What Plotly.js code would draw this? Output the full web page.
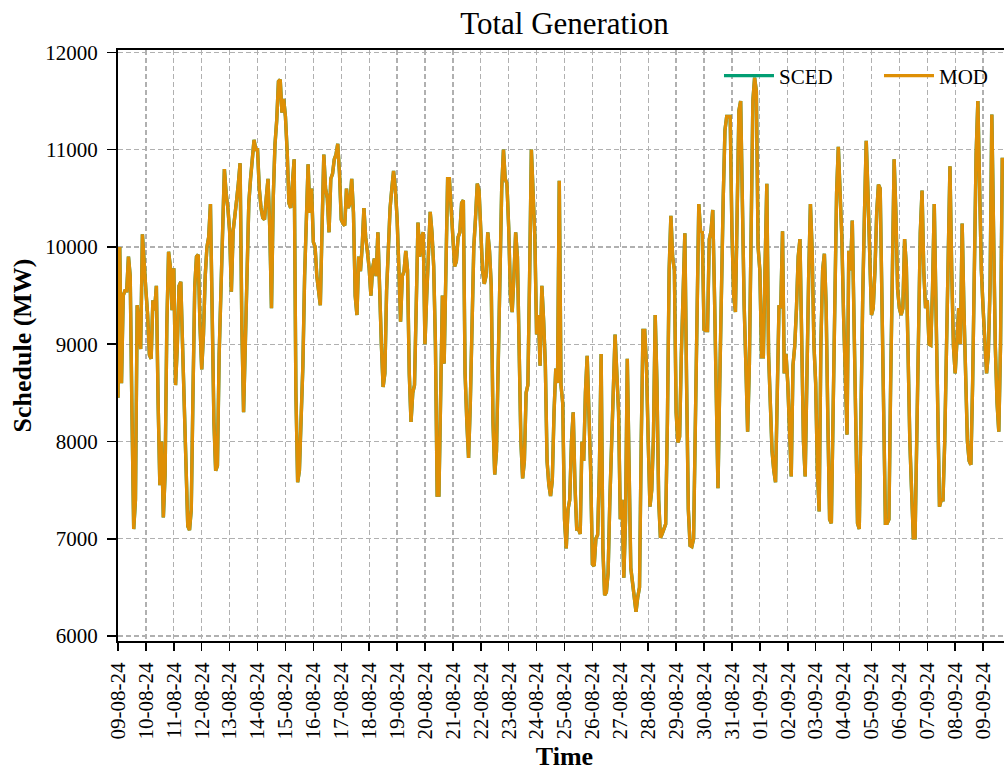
<!DOCTYPE html>
<html>
<head>
<meta charset="utf-8">
<script src="https://cdn.plot.ly/plotly-3.0.1.min.js"></script>
<style>
  html, body { margin: 0; padding: 0; overflow: hidden; background: #fff; }
  #chart { width: 1012px; height: 771px; }
</style>
</head>
<body>
<div id="chart"></div>
<script>
// Series start and sampling interval (values read every 1.5 h from the picture)
const seriesStart = '2024-08-09 00:00';
const stepMinutes = 90;

// Total generation (MW), 16 readings per day, 09-08-24 .. 09-09-24
const d0908 = [8450,10000,8600,9500,9550,9550,9900,9700,8300,7100,7400,9400,9200,8950,10130,9800];
const d1008 = [9550,9300,8890,8850,9450,9350,9600,8400,7550,8000,7220,7660,9200,9950,9800,9350];
const d1108 = [9780,8580,8980,9600,9640,9000,8400,7800,7130,7090,7300,8500,9590,9900,9920,9200];
const d1208 = [8740,9100,9700,10000,10100,10440,9000,8200,7700,7750,8900,9600,10400,10800,10550,10400];
const d1308 = [10160,9540,10160,10300,10480,10650,10860,9200,8300,9000,9900,10450,10700,10900,11100,11000];
const d1408 = [11000,10600,10400,10300,10280,10500,10700,10200,9370,10500,11050,11300,11700,11720,11380,11520];
const d1508 = [11340,10980,10450,10400,10700,10900,8500,7580,7700,8200,8780,9700,10400,10850,10350,10600];
const d1608 = [10050,10000,9700,9550,9400,10200,10950,10600,10500,10150,10700,10750,10900,10950,11060,10750];
const d1708 = [10280,10240,10220,10600,10400,10450,10700,10350,9500,9300,9900,9750,10000,10400,10100,9950];
const d1808 = [9780,9500,9780,9880,9700,10150,9500,9000,8560,8700,9550,10100,10400,10600,10780,10600];
const d1908 = [10300,9800,9230,9700,9750,9960,9760,8700,8200,8500,8580,9400,10250,9900,10100,10150];
const d2008 = [9000,9500,9900,10360,10150,9800,9000,7450,7450,8580,9500,8800,9950,10700,10700,10350];
const d2108 = [10150,9800,9850,10100,10150,10450,10480,8700,8200,7830,8400,9400,10000,10300,10650,10580];
const d2208 = [10200,9760,9620,9700,10150,9960,9600,8200,7660,7900,8800,9900,10600,11000,10700,10650];
const d2308 = [10200,9500,9330,9700,10150,9900,8800,8000,7620,7800,8500,8580,9700,11000,10550,10100];
const d2408 = [9100,9300,8780,9600,9250,8800,7800,7560,7440,7600,8300,8750,8600,10680,8580,8390];
const d2508 = [7200,6900,7300,7400,8000,8300,7550,7100,7100,7050,8000,7800,8500,8880,8300,7700];
const d2608 = [6740,6720,7000,7040,7700,8900,6900,6420,6450,6650,7400,7900,8400,9100,8700,8300];
const d2708 = [7200,7400,6600,7200,8850,7600,6700,6550,6400,6250,6400,6500,8000,9140,9140,8780];
const d2808 = [8000,7330,7500,8050,9300,8600,7400,7010,7050,7100,7150,8200,9760,10320,9900,9760];
const d2908 = [8300,7990,8050,8900,9700,10140,8600,7300,6930,6920,7000,8200,9500,10440,10160,10150];
const d3008 = [9150,9140,9140,10080,10160,10380,9500,8600,7520,8600,9700,10500,11200,11340,11340,11340];
const d3108 = [10160,9500,9330,10500,11400,11500,10200,9400,8780,8100,8800,10350,11500,11740,11600,10000];
const d0109 = [9760,8870,8870,9800,10650,8900,8250,7900,7700,7580,8500,9400,9370,10160,8700,8900];
const d0209 = [8600,8190,7640,8780,8980,9370,9900,10080,9000,8000,7640,8800,9700,10440,9960,9000];
const d0309 = [8600,7700,7280,9000,9760,9930,9400,8200,7200,7160,8200,9370,10550,11030,10550,10100];
const d0409 = [9300,8780,8070,9960,9760,10270,9370,8190,7160,7100,8600,9500,10350,11090,10550,9760];
const d0509 = [9300,9370,9760,10350,10640,10600,9370,8000,7160,7160,7200,8600,9760,10900,10350,9560];
const d0609 = [9370,9300,9370,10080,9800,8800,8000,7500,7010,7010,8000,9370,10150,10580,9750,9370];
const d0709 = [9450,9000,8990,9560,10440,9370,8200,7330,7400,7400,8000,9000,10100,10830,9760,8980];
const d0809 = [8700,8980,9370,9000,10240,9370,8600,8000,7800,7760,8600,9760,10950,11500,10550,9760];
const d0909 = [9370,8980,8700,8900,9600,11360,10150,8980,8400,8100,9000,10900,10900];

// SCED and MOD schedules coincide in the picture (MOD drawn on top of SCED)
const scedMW = [].concat(d0908,d1008,d1108,d1208,d1308,d1408,d1508,d1608,d1708,d1808,d1908,d2008,
  d2108,d2208,d2308,d2408,d2508,d2608,d2708,d2808,d2908,d3008,d3108,d0109,d0209,d0309,d0409,
  d0509,d0609,d0709,d0809,d0909);
const modMW = scedMW;

const seriesNames = ['SCED', 'MOD'];
const seriesColors = ['#029E73', '#DE8F05'];

// timestamps
const t0 = Date.parse(seriesStart.replace(' ', 'T') + ':00Z');
const times = scedMW.map((_, i) => new Date(t0 + i * stepMinutes * 60000).toISOString().slice(0, 16).replace('T', ' '));

const FONT = '"Liberation Serif", "Times New Roman", Times, serif';

const traces = [
  { x: times, y: scedMW, type: 'scatter', mode: 'lines', name: seriesNames[0],
    line: { color: seriesColors[0], width: 3.4 } },
  { x: times, y: modMW, type: 'scatter', mode: 'lines', name: seriesNames[1],
    line: { color: seriesColors[1], width: 3.4 } }
];

const gridStyle = { showgrid: true, gridcolor: '#b0b0b0', gridwidth: 1.3, griddash: '5px,3px' };

const layout = {
  width: 1012, height: 771,
  margin: { l: 118, r: 1, t: 50, b: 130, autoexpand: false },
  paper_bgcolor: '#fff', plot_bgcolor: '#fff',
  font: { family: FONT, color: '#000', size: 21 },
  title: { text: 'Total Generation', font: { family: FONT, size: 31, color: '#000' },
           x: 0.5, xref: 'paper', xanchor: 'center', y: 1 - 23 / 771, yref: 'container', yanchor: 'middle' },
  xaxis: Object.assign({
    type: 'date',
    range: ['2024-08-09 00:00', '2024-09-10 00:00'],
    tick0: '2024-08-09', dtick: 86400000, tickformat: '%d-%m-%y',
    tickangle: -90, ticks: 'outside', ticklen: 8, tickwidth: 1.5, tickcolor: '#000',
    ticklabelstandoff: 3,
    showline: true, linecolor: '#000', linewidth: 2, mirror: true,
    zeroline: false,
    tickfont: { family: FONT, size: 21, color: '#000' },
    title: { text: '<b>Time</b>', font: { family: FONT, size: 26, color: '#000' }, standoff: 10 }
  }, gridStyle),
  yaxis: Object.assign({
    range: [5949, 12024],
    tick0: 6000, dtick: 1000, tickformat: 'd',
    ticks: 'outside', ticklen: 9, tickwidth: 1.5, tickcolor: '#000',
    ticklabelstandoff: 5,
    showline: true, linecolor: '#000', linewidth: 2,
    zeroline: false,
    tickfont: { family: FONT, size: 21, color: '#000' },
    title: { text: '<b>Schedule (MW)</b>', font: { family: FONT, size: 26, color: '#000' }, standoff: 6 }
  }, gridStyle),
  showlegend: true,
  legend: {
    orientation: 'h', x: 0.673, xanchor: 'left', y: 0.956, yanchor: 'middle',
    bgcolor: 'rgba(0,0,0,0)', borderwidth: 0,
    font: { family: FONT, size: 21, color: '#000' },
    itemwidth: 50, entrywidth: 95, entrywidthmode: 'pixels'
  }
};

Plotly.newPlot('chart', traces, layout, { staticPlot: true, displayModeBar: false });
</script>
</body>
</html>
